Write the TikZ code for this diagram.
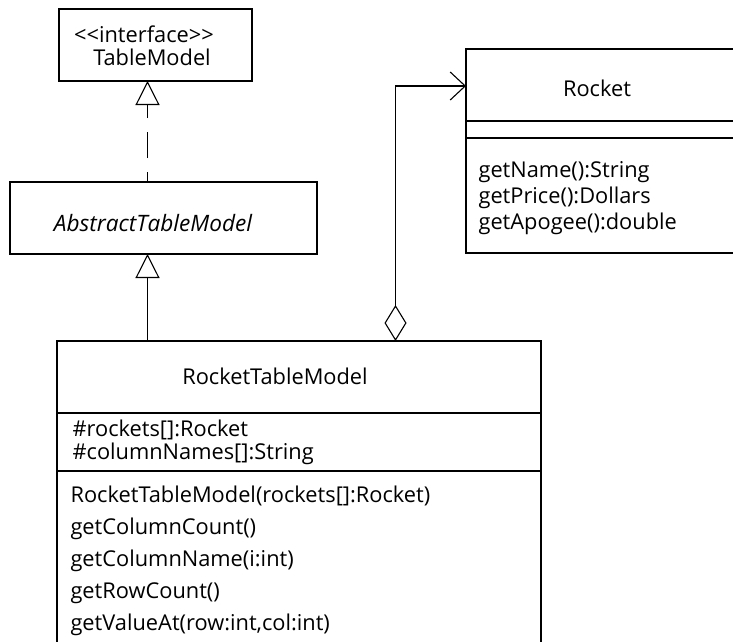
\documentclass[tikz,border=0pt]{standalone}
\usepackage{fontspec}
\setmainfont{Open Sans}
\usetikzlibrary{arrows.meta}
\begin{document}
\begin{tikzpicture}[x=1pt,y=-1pt,
  line width=1.1pt,
  box/.style={draw, line width=1.1pt, rectangle, anchor=north west, inner sep=0pt, outer sep=0pt},
  txt/.style={inner sep=0pt, font=\fontsize{21.8}{26}\selectfont},
  lefttxt/.style={txt, anchor=base west},
  midtxt/.style={txt, anchor=base},
  realize/.style={dash pattern=on 26pt off 14pt, dash phase=16pt, -{Triangle[open, length=24pt, width=24pt, line width=1.1pt]}},
  general/.style={-{Triangle[open, length=24pt, width=24pt, line width=1.1pt]}},
  agg/.style={{Diamond[open, length=36pt, width=22pt, line width=1.1pt]}-{Straight Barb[length=15pt, width=28pt, line width=1.1pt]}}
]
\useasboundingbox (0,0) rectangle (733,642);
\clip (0,0) rectangle (733,642);

% TableModel
\node[box, minimum width=193pt, minimum height=72pt] (tm) at (59,9) {};
\node[midtxt] (tmst) at (144,43) {<{}<interface>{}>};
\node[midtxt] (tmname) at (152,66) {TableModel};

% AbstractTableModel
\node[box, minimum width=307pt, minimum height=72pt] (atm) at (10,182) {};
\node[midtxt, font=\fontsize{22.6}{26}\selectfont\itshape] (atmname) at (153,231) {AbstractTableModel};

% Rocket
\node[box, minimum width=300pt, minimum height=204pt] (rocket) at (466,49) {};
\draw (rocket.north west) ++(0,72) coordinate (rd1) -- ++(300,0);
\draw (rocket.north west) ++(0,89) coordinate (rd2) -- ++(300,0);
\node[midtxt] (rname) at (597,96) {Rocket};
\node[lefttxt] (rm1) at (478,177) {getName():String};
\node[lefttxt] (rm2) at (478,203) {getPrice():Dollars};
\node[lefttxt] (rm3) at (478,229) {getApogee():double};

% RocketTableModel
\node[box, minimum width=484pt, minimum height=340pt] (rtm) at (57,341) {};
\draw (rtm.north west) ++(0,72) coordinate (td1) -- ++(484,0);
\draw (rtm.north west) ++(0,130) coordinate (td2) -- ++(484,0);
\node[midtxt] (rtmname) at (275,384) {RocketTableModel};
\node[lefttxt] (ra1) at (72,436) {\#rockets[]:Rocket};
\node[lefttxt] (ra2) at (72,459) {\#columnNames[]:String};
\node[lefttxt] (rmm1) at (70,502) {RocketTableModel(rockets[]:Rocket)};
\node[lefttxt] (rmm2) at (70,534) {getColumnCount()};
\node[lefttxt] (rmm3) at (70,566) {getColumnName(i:int)};
\node[lefttxt] (rmm4) at (70,598) {getRowCount()};
\node[lefttxt] (rmm5) at (70,630) {getValueAt(row:int,col:int)};

% connectors
\coordinate (ix) at (147.5,0);
\coordinate (ax) at (395.5,0);
\coordinate (ay) at (0,86);
\draw[realize] (atm.north -| ix) -- (tm.south -| ix);
\draw[general] (rtm.north -| ix) -- (atm.south -| ix);
\draw[agg] (rtm.north -| ax) |- (rocket.west |- ay);
\end{tikzpicture}
\end{document}
